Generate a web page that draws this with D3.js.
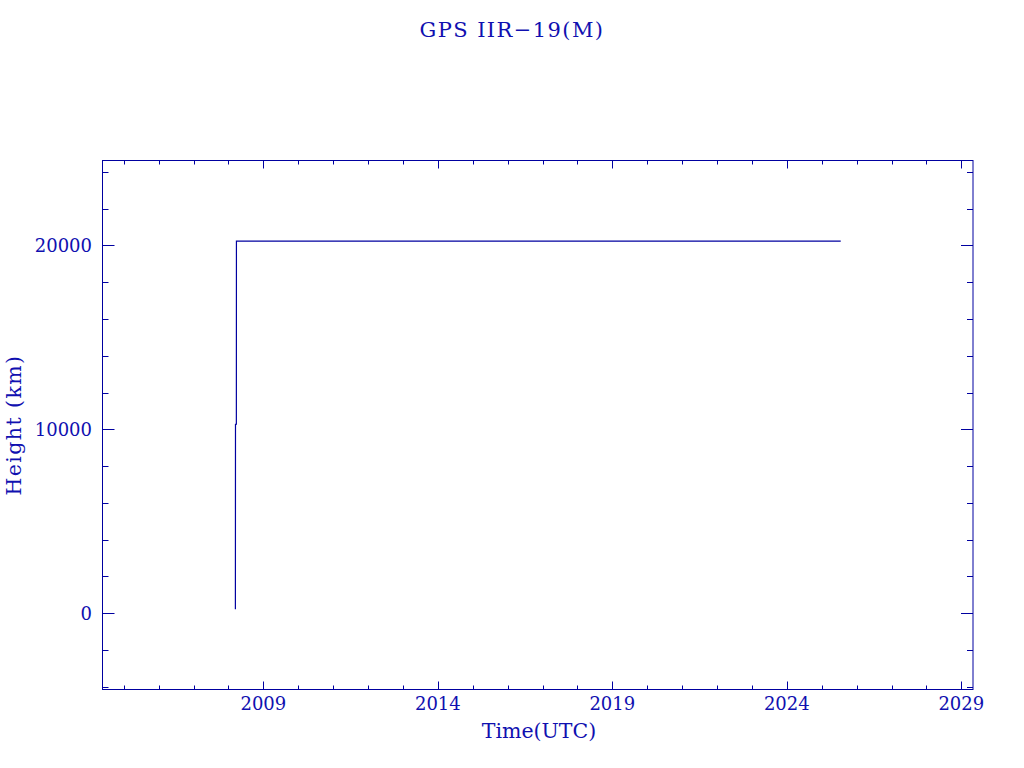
<!DOCTYPE html>
<html><head><meta charset="utf-8">
<script src="https://cdn.jsdelivr.net/npm/d3@7"></script>
<style>html,body{margin:0;padding:0;background:#fff;}svg{display:block;}</style>
</head><body>
<script>
// Data (decimal year, height km)
const times   = [2008.198, 2008.201, 2008.226, 2008.228, 2025.545];
const heights = [217,      10270,    10280,    20230,    20230];
const xMajorTicks = [2009, 2014, 2019, 2024, 2029];
const yMajorTicks = [0, 10000, 20000];
const title = "GPS IIR\u221219(M)";
const xLabel = "Time(UTC)";
const yLabel = "Height (km)";

const W = 1024, H = 768;
const L = 102.5, R = 973, T = 160.5, B = 689.5;
const col = "#0000a0", tcol = "#1010b0";
const font = "'DejaVu Serif', serif";

const x = d3.scaleLinear().domain([2004.39, 2029.335]).range([L, R]);
const y = d3.scaleLinear().domain([-4150, 24620]).range([B, T]);

const svg = d3.select("body").append("svg").attr("width", W).attr("height", H);

// frame
svg.append("rect").attr("x", L).attr("y", T).attr("width", R - L).attr("height", B - T)
  .attr("fill", "none").attr("stroke", col).attr("stroke-width", 1);

const xMinor = d3.range(2005, 2030);
const yMinor = d3.range(-4000, 24001, 2000);
const g = svg.append("g").attr("stroke", col).attr("stroke-width", 1);
xMinor.forEach(v => {
  const len = xMajorTicks.includes(v) ? 8 : 4;
  const px = Math.round(x(v)) + 0.5;
  g.append("line").attr("x1", px).attr("x2", px).attr("y1", B).attr("y2", B - len);
  g.append("line").attr("x1", px).attr("x2", px).attr("y1", T).attr("y2", T + len);
});
yMinor.forEach(v => {
  const len = yMajorTicks.includes(v) ? 12 : 6;
  const py = Math.round(y(v)) + 0.5;
  g.append("line").attr("y1", py).attr("y2", py).attr("x1", L).attr("x2", L + len);
  g.append("line").attr("y1", py).attr("y2", py).attr("x1", R).attr("x2", R - len);
});

// tick labels
svg.append("g").selectAll("text").data(xMajorTicks).join("text")
  .attr("x", d => x(d)).attr("y", 710).attr("text-anchor", "middle")
  .attr("font-family", font).attr("font-size", 18).attr("fill", tcol).text(d => d);
svg.append("g").selectAll("text").data(yMajorTicks).join("text")
  .attr("x", 92).attr("y", d => y(d) + 6.5).attr("text-anchor", "end")
  .attr("font-family", font).attr("font-size", 18).attr("fill", tcol).text(d => d);

// data line
const pts = times.map((t, i) => [t, heights[i]]);
svg.append("path").datum(pts)
  .attr("d", d3.line().x(d => x(d[0])).y(d => y(d[1])))
  .attr("fill", "none").attr("stroke", col).attr("stroke-width", 1.2);

// labels
svg.append("text").attr("x", 512).attr("y", 37).attr("text-anchor", "middle")
  .attr("font-family", font).attr("font-size", 21).attr("letter-spacing", 1.4)
  .attr("fill", tcol).text(title);
svg.append("text").attr("x", 539).attr("y", 738).attr("text-anchor", "middle")
  .attr("font-family", font).attr("font-size", 20.5).attr("fill", tcol).text(xLabel);
svg.append("text").attr("transform", "translate(21,425) rotate(-90)").attr("text-anchor", "middle")
  .attr("font-family", font).attr("font-size", 20.5).attr("letter-spacing", 1.4)
  .attr("fill", tcol).text(yLabel);
</script>
</body></html>
